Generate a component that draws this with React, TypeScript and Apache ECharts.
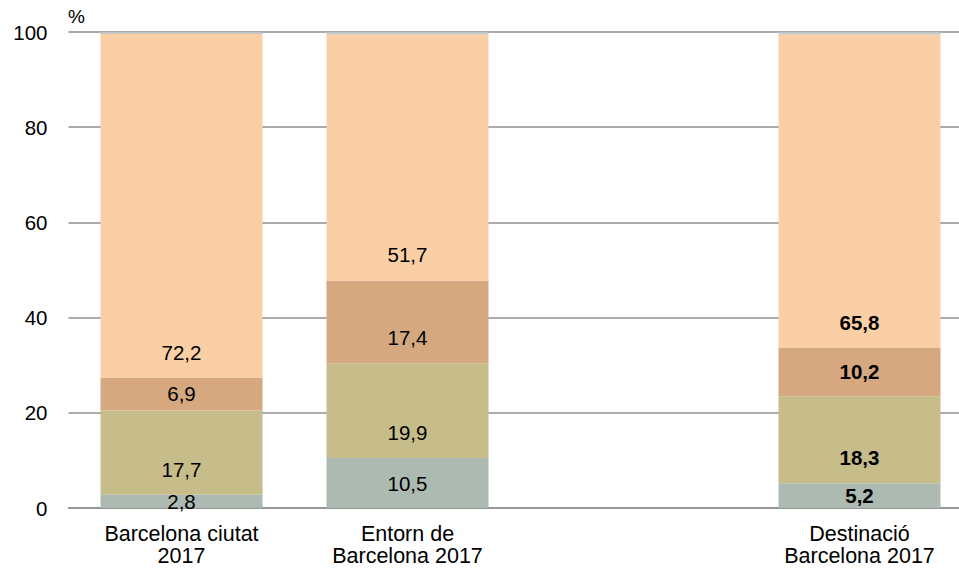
import React, { useEffect, useRef } from "react";
import * as echarts from "echarts";

const categories = ["Barcelona ciutat\n2017", "Entorn de\nBarcelona 2017", "", "Destinació\nBarcelona 2017"];
const seriesNames = ["S1", "S2", "S3", "S4", "S5"];
const s1 = [2.8, 10.5, null, 5.2];
const s2 = [17.7, 19.9, null, 18.3];
const s3 = [6.9, 17.4, null, 10.2];
const s4 = [72.2, 51.7, null, 65.8];
const s5 = [0.4, 0.5, null, 0.5];
const colors = ["#adbab2", "#c6bd8b", "#d5a880", "#fbcfa6", "#c4c4c4"];
const boldCategory = [false, false, false, true];
const yTicks = [0, 20, 40, 60, 80, 100];

const FONT = "'Liberation Sans', Arial, Helvetica, sans-serif";
const PX_PER_UNIT = 476 / 100;

function makeData(vals: (number | null)[], withLabel: boolean) {
  return vals.map((v, i) => {
    if (v === null) return { value: null };
    if (!withLabel) return { value: v, label: { show: false } };
    const half = (v * PX_PER_UNIT) / 2;
    const pos = half >= 25 ? { position: "insideBottom", distance: 15 } : { position: "inside" };
    return {
      value: v,
      label: {
        show: true,
        ...pos,
        fontWeight: boldCategory[i] ? "bold" : "normal",
      },
    };
  });
}

export default function App() {
  const ref = useRef<HTMLDivElement>(null);
  useEffect(() => {
    if (!ref.current) return;
    const chart = echarts.init(ref.current, null, { renderer: "svg" });
    const all = [s1, s2, s3, s4, s5];
    chart.setOption({
      animation: false,
      grid: {
        left: 68.5,
        top: 32,
        width: 904,
        height: 476,
        containLabel: false,
        outerBoundsMode: "none",
      },
      graphic: [
        {
          type: "text",
          left: 68,
          top: 7,
          style: { text: "%", fontSize: 19, fontFamily: FONT, fill: "#000" },
        },
      ],
      xAxis: {
        type: "category",
        data: categories,
        axisTick: { show: false },
        axisLine: { lineStyle: { color: "#8f8f8f", width: 1.5 } },
        axisLabel: {
          color: "#000",
          fontSize: 21.5,
          fontFamily: FONT,
          lineHeight: 22,
          margin: 15,
          interval: 0,
        },
      },
      yAxis: {
        type: "value",
        min: 0,
        max: 100,
        interval: 20,
        axisLine: { show: false },
        axisTick: { show: false },
        axisLabel: {
          color: "#000",
          fontSize: 20.5,
          fontFamily: FONT,
          margin: 21,
          customValues: yTicks,
        },
        splitLine: { lineStyle: { color: "#8f8f8f", width: 1.5 } },
      },
      series: all.map((vals, k) => ({
        name: seriesNames[k],
        type: "bar",
        stack: "total",
        barWidth: 162,
        itemStyle: { color: colors[k] },
        label: {
          color: "#000",
          fontSize: 20.5,
          fontFamily: FONT,
          formatter: (p: any) => String(p.value).replace(".", ","),
        },
        data: makeData(vals, k < 4),
      })),
    });
    return () => chart.dispose();
  }, []);
  return (
    <div
      ref={ref}
      style={{ position: "fixed", left: 0, top: 0, width: 959, height: 569, background: "#fff" }}
    />
  );
}
